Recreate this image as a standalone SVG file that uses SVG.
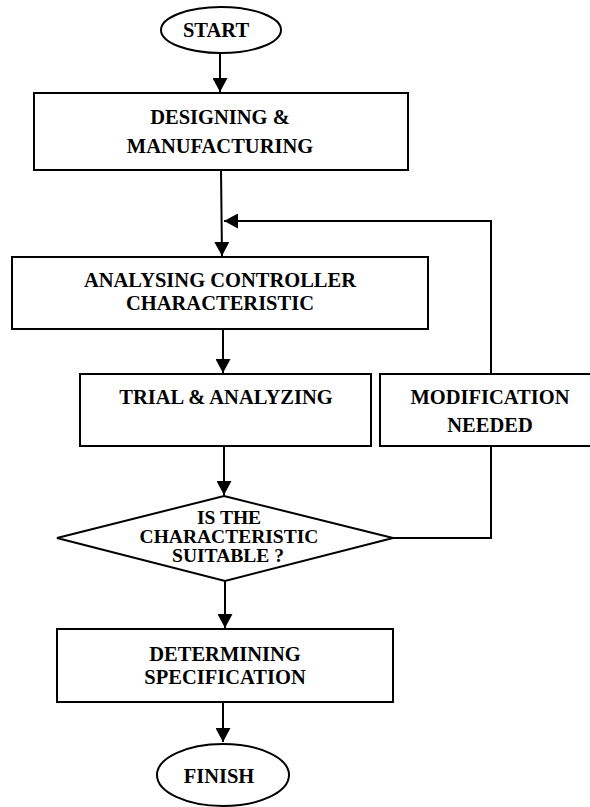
<svg xmlns="http://www.w3.org/2000/svg" width="590" height="807" viewBox="0 0 590 807">
<style>
.s{fill:#fff;stroke:#000;stroke-width:2}
.t{font-family:"Liberation Serif","Times New Roman",serif;font-weight:bold;font-size:20.5px;text-anchor:middle;fill:#000}
.d{font-size:19.5px}
.c{fill:none;stroke:#000;stroke-width:2}
</style>
<defs>
<marker id="ah" markerWidth="15" markerHeight="15" refX="14" refY="7.5" orient="auto" markerUnits="userSpaceOnUse">
<path d="M0,0 L14,7.5 L0,15 z" fill="#000"/>
</marker>
</defs>
<g id="connectors">
<line class="c" x1="220" y1="53" x2="220" y2="92" marker-end="url(#ah)"/>
<line class="c" x1="221" y1="170" x2="222" y2="256" marker-end="url(#ah)"/>
<polyline class="c" points="491,374 491,221 224,221" marker-end="url(#ah)"/>
<line class="c" x1="223" y1="329" x2="223" y2="373" marker-end="url(#ah)"/>
<line class="c" x1="224" y1="446" x2="224" y2="495" marker-end="url(#ah)"/>
<polyline class="c" points="491,446 491,538 393,538"/>
<line class="c" x1="225" y1="581" x2="225" y2="628" marker-end="url(#ah)"/>
<line class="c" x1="223" y1="702" x2="223" y2="742" marker-end="url(#ah)"/>
</g>
<g id="start">
<ellipse class="s" cx="221" cy="30" rx="60" ry="23"/>
<text class="t" x="216" y="37">START</text>
</g>
<g id="designing">
<rect class="s" x="34" y="93" width="374" height="77"/>
<text class="t" x="220" y="124">DESIGNING &amp;</text>
<text class="t" x="220" y="153">MANUFACTURING</text>
</g>
<g id="analysing">
<rect class="s" x="12" y="257" width="416" height="72"/>
<text class="t" x="220" y="287">ANALYSING CONTROLLER</text>
<text class="t" x="220" y="310">CHARACTERISTIC</text>
</g>
<g id="trial">
<rect class="s" x="80" y="374" width="291" height="72"/>
<text class="t" x="226" y="404">TRIAL &amp; ANALYZING</text>
</g>
<g id="modification">
<rect class="s" x="380" y="374" width="220" height="72"/>
<text class="t" x="490" y="404">MODIFICATION</text>
<text class="t" x="490" y="432">NEEDED</text>
</g>
<g id="decision">
<polygon class="s" points="224,496 393,538 225,581 57,538"/>
<text class="t d" x="229" y="524">IS THE</text>
<text class="t d" x="229" y="543">CHARACTERISTIC</text>
<text class="t d" x="228" y="562">SUITABLE ?</text>
</g>
<g id="determining">
<rect class="s" x="57" y="629" width="336" height="73"/>
<text class="t" x="225" y="661">DETERMINING</text>
<text class="t" x="225" y="684">SPECIFICATION</text>
</g>
<g id="finish">
<ellipse class="s" cx="223" cy="775" rx="66" ry="31"/>
<text class="t" x="219" y="783">FINISH</text>
</g>
</svg>
